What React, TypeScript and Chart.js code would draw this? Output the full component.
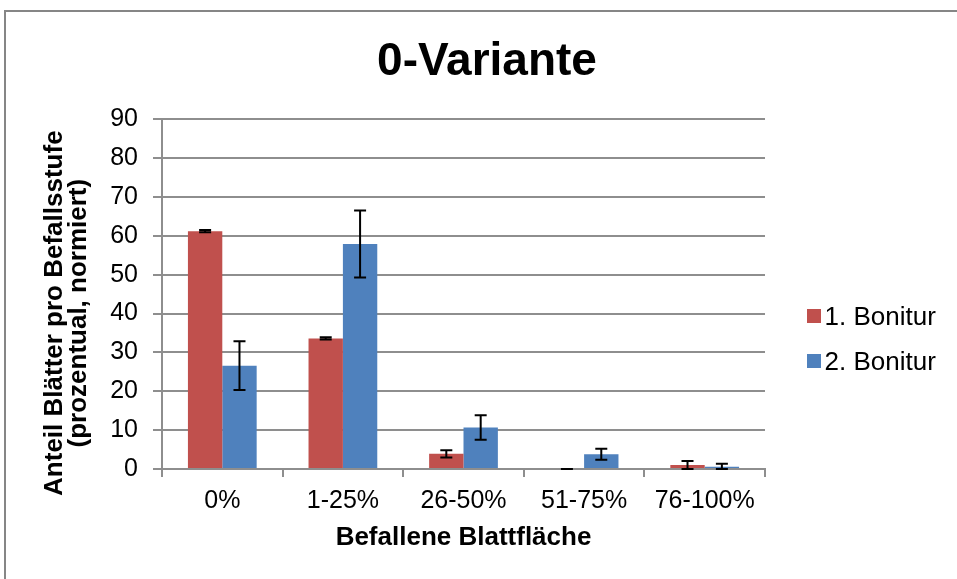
import React, { useEffect, useRef } from "react";
import { Chart, registerables } from "chart.js";

Chart.register(...registerables);

const categories = ["0%", "1-25%", "26-50%", "51-75%", "76-100%"];
const series1Label = "1. Bonitur";
const series2Label = "2. Bonitur";
const series1Values = [61.2, 33.6, 3.9, 0, 1.0];
const series2Values = [26.6, 57.9, 10.7, 3.8, 0.6];
const series1Errors = [0.3, 0.3, 0.95, 0, 1.05];
const series2Errors = [6.25, 8.6, 3.15, 1.4, 0.75];
const chartTitle = "0-Variante";
const xTitle = "Befallene Blattfläche";
const yTitleLines = ["Anteil Blätter pro Befallsstufe", "(prozentual, normiert)"];

const RED = "#C0504D";
const BLUE = "#4F81BD";
const GRID = "#8e8e8e";
const FONT = "'Liberation Sans', Arial, sans-serif";

const errors = [series1Errors, series2Errors];

const decorPlugin = {
  id: "decor",
  beforeDraw(chart: any) {
    const ctx = chart.ctx;
    ctx.save();
    ctx.fillStyle = "#ffffff";
    ctx.fillRect(0, 0, chart.width, chart.height);
    ctx.strokeStyle = "#868686";
    ctx.lineWidth = 2;
    ctx.strokeRect(5, 11, 3000, 3000);
    ctx.restore();
  },
  afterDraw(chart: any) {
    const ctx = chart.ctx;
    ctx.save();
    ctx.fillStyle = "#000000";
    // main title
    ctx.font = `bold 46px ${FONT}`;
    ctx.textAlign = "center";
    ctx.textBaseline = "alphabetic";
    ctx.fillText(chartTitle, 487, 75);
    // y title
    ctx.font = `bold 26px ${FONT}`;
    const baselines = [62, 86];
    const cy = (chart.chartArea.top + chart.chartArea.bottom) / 2 + 19;
    yTitleLines.forEach((t, i) => {
      ctx.save();
      ctx.translate(baselines[i], cy);
      ctx.rotate(-Math.PI / 2);
      ctx.fillText(t, 0, 0);
      ctx.restore();
    });
    // legend
    ctx.font = `26px ${FONT}`;
    ctx.textAlign = "left";
    const items = [
      { label: series1Label, color: RED },
      { label: series2Label, color: BLUE },
    ];
    items.forEach((it, i) => {
      const base = 325 + i * 45;
      ctx.fillStyle = it.color;
      ctx.fillRect(807, base - 16, 14, 14);
      ctx.fillStyle = "#000000";
      ctx.fillText(it.label, 824.5, base);
    });
    ctx.restore();
  },
  afterDatasetsDraw(chart: any) {
    const ctx = chart.ctx;
    const yScale = chart.scales.y;
    ctx.save();
    ctx.strokeStyle = "#000000";
    ctx.lineWidth = 2;
    chart.data.datasets.forEach((ds: any, i: number) => {
      const meta = chart.getDatasetMeta(i);
      meta.data.forEach((el: any, j: number) => {
        const v = ds.data[j];
        const e = errors[i][j];
        const x = el.x;
        const yt = yScale.getPixelForValue(v + e);
        const yb = yScale.getPixelForValue(Math.max(v - e, 0));
        const hw = 6;
        ctx.beginPath();
        ctx.moveTo(x, yt);
        ctx.lineTo(x, yb);
        ctx.moveTo(x - hw, yt);
        ctx.lineTo(x + hw, yt);
        ctx.moveTo(x - hw, yb);
        ctx.lineTo(x + hw, yb);
        ctx.stroke();
      });
    });
    ctx.restore();
  },
};

export default function App() {
  const ref = useRef<HTMLCanvasElement | null>(null);
  useEffect(() => {
    if (!ref.current) return;
    const chart = new Chart(ref.current, {
      type: "bar",
      data: {
        labels: categories,
        datasets: [
          {
            label: series1Label,
            data: series1Values,
            backgroundColor: RED,
            categoryPercentage: 0.57,
            barPercentage: 1,
          },
          {
            label: series2Label,
            data: series2Values,
            backgroundColor: BLUE,
            categoryPercentage: 0.57,
            barPercentage: 1,
          },
        ],
      },
      options: {
        responsive: false,
        animation: false,
        layout: { padding: { top: 119.3, right: 192, bottom: 0, left: 0 } },
        plugins: {
          legend: { display: false },
          title: { display: false },
          tooltip: { enabled: false },
        },
        scales: {
          x: {
            afterFit: (s: any) => {
              s.height = 110;
            },
            grid: {
              offset: true,
              drawOnChartArea: false,
              drawTicks: true,
              tickLength: 8,
              color: GRID,
              lineWidth: 2,
            },
            border: { display: true, color: GRID, width: 2 },
            ticks: {
              color: "#000000",
              padding: 9,
              font: { family: FONT, size: 25 },
            },
            title: {
              display: true,
              text: xTitle,
              color: "#000000",
              font: { family: FONT, size: 26, weight: "bold" },
              padding: { top: 0, bottom: 26 },
            },
          },
          y: {
            min: 0,
            max: 90,
            afterFit: (s: any) => {
              s.width = 162;
            },
            grid: {
              color: GRID,
              lineWidth: 2,
              drawTicks: true,
              tickLength: 9,
            },
            border: { display: true, color: GRID, width: 2 },
            ticks: {
              stepSize: 10,
              color: "#000000",
              padding: 15,
              font: { family: FONT, size: 25 },
            },
          },
        },
      },
      plugins: [decorPlugin],
    });
    return () => chart.destroy();
  }, []);
  return (
    <div style={{ position: "absolute", left: 0, top: 0, width: 957, height: 579 }}>
      <canvas ref={ref} width={957} height={579} style={{ display: "block" }} />
    </div>
  );
}
